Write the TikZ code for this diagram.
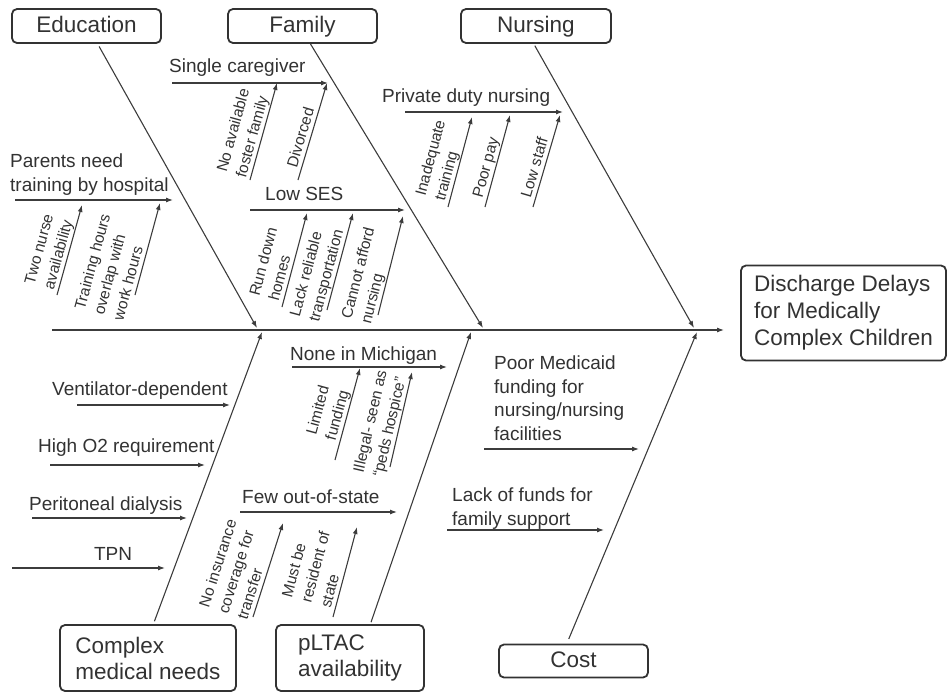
\documentclass[tikz,border=0pt]{standalone}
\usepackage{fontspec}
\setmainfont{Liberation Sans}
\usetikzlibrary{arrows.meta,positioning,calc}
\definecolor{inkgray}{RGB}{50,50,50}
\definecolor{linegray}{RGB}{60,60,60}

\begin{document}
\begin{tikzpicture}[x=1pt,y=-1pt,>={Latex[length=7pt,width=5pt]},
  catbox/.style={draw=inkgray,line width=1.8pt,rounded corners=5pt,text=inkgray,
    font=\fontsize{22.5}{26}\selectfont,inner sep=3pt,text height=16pt,text depth=4pt},
  bone/.style={draw=linegray,line width=1.1pt,->},
  twig/.style={draw=linegray,line width=1.1pt,->},
  cause/.style={text=inkgray,font=\fontsize{19}{23.5}\selectfont,inner sep=2pt,align=left},
  subcause/.style={text=inkgray,font=\fontsize{15.5}{20}\selectfont,inner sep=1pt,
    text depth=3pt,align=left,sloped,above}]
  \useasboundingbox (0,0) rectangle (948,691);

  % Category boxes and the effect box.
  \node[catbox,minimum width=149pt,minimum height=34pt] (edu) at (86.5,26) {Education};
  \node[catbox,minimum width=149pt,minimum height=34pt] (fam) at (302.5,26) {Family};
  \node[catbox,minimum width=150pt,minimum height=34pt] (nur) at (536,26) {Nursing};
  \node[catbox,minimum width=176pt,minimum height=66pt,align=left,text height=,text depth=]
    (cmn) at (148,658) {Complex\\medical needs};
  \node[catbox,minimum width=148pt,minimum height=66pt,align=left,text height=,text depth=]
    (plt) at (350,658) {pLTAC\\availability};
  \node[catbox,minimum width=149pt,minimum height=33pt] (cost) at (573.5,661) {Cost};
  \node[catbox,minimum width=205pt,minimum height=95pt,align=left,text height=,text depth=,
    font=\fontsize{22.5}{27}\selectfont] (effect) at (843.5,313) 
    {Discharge Delays\\for Medically\\Complex Children};

  % Spine.
  \coordinate (tail) at (52,330);
  \coordinate (head) at (724,330);
  \draw[bone] (tail) -- (head);

  % Main bones, upper ones end on top of the spine, lower ones below it.
  \coordinate (eduEnd) at (257,328);
  \coordinate (famEnd) at (483,328);
  \coordinate (nurEnd) at (694,328);
  \coordinate (cmnEnd) at (262,332);
  \coordinate (pltEnd) at (471,332);
  \coordinate (costEnd) at (697,332);
  \draw[bone,shorten <=3pt] (edu.-58) -- (eduEnd);
  \draw[bone] (fam.-66) -- (famEnd);
  \draw[bone,shorten <=2pt] (nur.-97) -- (nurEnd);
  \draw[bone,shorten <=3pt] (cmn.81) -- (cmnEnd);
  \draw[bone,shorten <=2pt] (plt.59) -- (pltEnd);
  \draw[bone,shorten <=5pt] (cost.111) -- (costEnd);

  % Education.
  \coordinate (parA) at (15,200);
  \coordinate (parB) at (173,200);
  \draw[twig] (parA) -- (parB);
  \node[cause,anchor=north west] (parents) at (8,152) {Parents need\\training by hospital};
  \coordinate (twoA) at (57,295);
  \coordinate (twoB) at (82,205);
  \draw[twig] (twoA) -- (twoB) node[subcause,pos=.42] (twonurse) {Two nurse\\availability};
  \coordinate (trnA) at (135,295);
  \coordinate (trnB) at (160,203);
  \draw[twig] (trnA) -- (trnB) node[subcause,pos=.22] (overlap) {Training hours\\overlap with\\work hours};

  % Family.
  \coordinate (sngA) at (172,83);
  \coordinate (sngB) at (328,83);
  \draw[twig] (sngA) -- (sngB);
  \node[cause,anchor=base west] (single) at (167,72) {Single caregiver};
  \coordinate (fosA) at (250,180);
  \coordinate (fosB) at (277,83);
  \draw[twig] (fosA) -- (fosB) node[subcause,pos=.43] (foster) {No available\\foster family};
  \coordinate (divA) at (298,180);
  \coordinate (divB) at (327,83);
  \draw[twig] (divA) -- (divB) node[subcause,pos=.41] (divorced) {Divorced};
  \coordinate (sesA) at (250,210);
  \coordinate (sesB) at (405,210);
  \draw[twig] (sesA) -- (sesB);
  \node[cause,anchor=base west] (lowses) at (263,200) {Low SES};
  \coordinate (runA) at (282,307);
  \coordinate (runB) at (307,213);
  \draw[twig] (runA) -- (runB) node[subcause,pos=.4] (rundown) {Run down\\homes};
  \coordinate (trpA) at (327,310);
  \coordinate (trpB) at (353,213);
  \draw[twig] (trpA) -- (trpB) node[subcause,pos=.33] (transport) {Lack reliable\\transportation};
  \coordinate (affA) at (378,315);
  \coordinate (affB) at (403,216);
  \draw[twig] (affA) -- (affB) node[subcause,pos=.35] (afford) {Cannot afford\\nursing};

  % Nursing.
  \coordinate (pdnA) at (405,112);
  \coordinate (pdnB) at (563,112);
  \draw[twig] (pdnA) -- (pdnB);
  \node[cause,anchor=base west] (private) at (380,102) {Private duty nursing};
  \coordinate (inaA) at (448,207);
  \coordinate (inaB) at (472,117);
  \draw[twig] (inaA) -- (inaB) node[subcause,pos=.46] (inadequate) {Inadequate\\training};
  \coordinate (payA) at (485,207);
  \coordinate (payB) at (510,115);
  \draw[twig] (payA) -- (payB) node[subcause,pos=.4] (poorpay) {Poor pay};
  \coordinate (stfA) at (533,207);
  \coordinate (stfB) at (560,115);
  \draw[twig] (stfA) -- (stfB) node[subcause,pos=.4] (lowstaff) {Low staff};

  % Complex medical needs.
  \coordinate (venA) at (77,405);
  \coordinate (venB) at (230,405);
  \draw[twig] (venA) -- (venB);
  \node[cause,anchor=base west] (vent) at (50,395) {Ventilator-dependent};
  \coordinate (oxyA) at (50,465);
  \coordinate (oxyB) at (205,465);
  \draw[twig] (oxyA) -- (oxyB);
  \node[cause,anchor=base west] (oxygen) at (36,452) {High O2 requirement};
  \coordinate (perA) at (32,518);
  \coordinate (perB) at (187,518);
  \draw[twig] (perA) -- (perB);
  \node[cause,anchor=base west] (dialysis) at (27,510) {Peritoneal dialysis};
  \coordinate (tpnA) at (12,568);
  \coordinate (tpnB) at (165,568);
  \draw[twig] (tpnA) -- (tpnB);
  \node[cause,anchor=base] (tpn) at (113,560) {TPN};

  % pLTAC availability.
  \coordinate (micA) at (292,367);
  \coordinate (micB) at (447,367);
  \draw[twig] (micA) -- (micB);
  \node[cause,anchor=base west] (michigan) at (288,360) {None in Michigan};
  \coordinate (limA) at (335,460);
  \coordinate (limB) at (360,368);
  \draw[twig] (limA) -- (limB) node[subcause,pos=.46] (limited) {Limited\\funding};
  \coordinate (illA) at (390,467);
  \coordinate (illB) at (412,372);
  \draw[twig] (illA) -- (illB) node[subcause,pos=.41] (illegal) {Illegal- seen as\\``peds hospice''};
  \coordinate (oosA) at (240,512);
  \coordinate (oosB) at (397,512);
  \draw[twig] (oosA) -- (oosB);
  \node[cause,anchor=base west] (outstate) at (240,503) {Few out-of-state};
  \coordinate (insA) at (253,617);
  \coordinate (insB) at (283,523);
  \draw[twig] (insA) -- (insB) node[subcause,pos=.41] (insurance) {No insurance\\coverage for\\transfer};
  \coordinate (resA) at (333,617);
  \coordinate (resB) at (357,527);
  \draw[twig] (resA) -- (resB) node[subcause,pos=.47] (resident) {Must be\\resident of\\state};

  % Cost.
  \coordinate (medA) at (484,449);
  \coordinate (medB) at (639,449);
  \draw[twig] (medA) -- (medB);
  \node[cause,anchor=north west] (medicaid) at (492,354)
    {Poor Medicaid\\funding for\\nursing/nursing\\facilities};
  \coordinate (fndA) at (447,530);
  \coordinate (fndB) at (604,530);
  \draw[twig] (fndA) -- (fndB);
  \node[cause,anchor=north west] (funds) at (450,486) {Lack of funds for\\family support};
\end{tikzpicture}
\end{document}
